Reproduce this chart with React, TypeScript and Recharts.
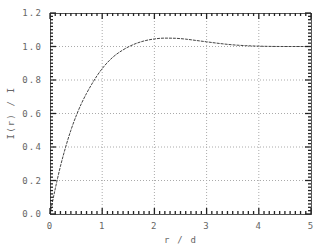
import { ComposedChart, Line, XAxis, YAxis, ReferenceLine, ReferenceArea } from "recharts"

// r / d values and the measured ratio I(r) / I
const rValues = [0, 0.1, 0.2, 0.3, 0.4, 0.5, 0.6, 0.7, 0.8, 0.9, 1.0, 1.2, 1.4, 1.6, 1.8, 2.0, 2.2, 2.4, 2.6, 2.8, 3.0, 3.25, 3.5, 3.75, 4.0, 4.5, 5.0]
const ratioValues = [0, 0.15, 0.285, 0.4, 0.5, 0.585, 0.658, 0.72, 0.775, 0.825, 0.868, 0.935, 0.98, 1.012, 1.033, 1.045, 1.05, 1.049, 1.044, 1.036, 1.028, 1.018, 1.01, 1.005, 1.002, 1.0, 1.0]

const xMajorTicks = [0, 1, 2, 3, 4, 5]
const yMajorTicks = [0, 0.2, 0.4, 0.6, 0.8, 1.0, 1.2]
const yTickLabels = ["0.0", "0.2", "0.4", "0.6", "0.8", "1.0", "1.2"]

// minor tick marks: every 0.1 on x, every 0.02 on y
const xMinorTicks = Array.from({ length: 51 }, (_, i) => i / 10)
const yMinorTicks = Array.from({ length: 61 }, (_, i) => i / 50)

const data = rValues.map((r, i) => ({ r, ratio: ratioValues[i] }))

const frameColor = "#555"
const tickColor = "#222"
const textColor = "#666"
const fontFamily = "'DejaVu Sans Mono', monospace"

const isMajor = (v: number, step: number) => Math.abs(v / step - Math.round(v / step)) < 1e-6

const makeXTick = (side: "bottom" | "top") => (props: any) => {
	const { x, y, payload } = props
	const v = payload.value as number
	const major = isMajor(v, 1)
	const len = major ? 6 : 3
	const dir = side === "bottom" ? -1 : 1
	return (
		<g>
			<line x1={x} x2={x} y1={y} y2={y + dir * len} stroke={tickColor} strokeWidth={1.3} />
			{side === "bottom" && major && (
				<text x={x} y={y + 15} textAnchor='middle' fill={textColor} fontSize={9} fontFamily={fontFamily} letterSpacing={1.2}>
					{String(v)}
				</text>
			)}
		</g>
	)
}

const makeYTick = (side: "left" | "right") => (props: any) => {
	const { x, y, payload } = props
	const v = payload.value as number
	const major = isMajor(v, 0.2)
	const len = major ? 6 : 3
	const dir = side === "left" ? 1 : -1
	const idx = yMajorTicks.findIndex((t) => Math.abs(t - v) < 1e-6)
	return (
		<g>
			<line x1={x} x2={x + dir * len} y1={y} y2={y} stroke={tickColor} strokeWidth={1.3} />
			{side === "left" && major && idx >= 0 && (
				<text x={x - 8} y={y + 3} textAnchor='end' fill={textColor} fontSize={9} fontFamily={fontFamily} letterSpacing={1.2}>
					{yTickLabels[idx]}
				</text>
			)}
		</g>
	)
}

export default function App() {
	return (
		<div style={{ position: "absolute", left: 0, top: 0, width: 330, height: 247, background: "#fff" }}>
			<ComposedChart width={330} height={247} data={data} margin={{ top: 12, right: 18, bottom: 13, left: 0 }}>
				<XAxis
					dataKey='r'
					type='number'
					domain={[0, 5]}
					ticks={xMinorTicks}
					interval={0}
					tickSize={0}
					tickMargin={0}
					tickLine={false}
					height={20}
					axisLine={false}
					tick={makeXTick("bottom")}
				/>
				<XAxis
					xAxisId='top'
					orientation='top'
					dataKey='r'
					type='number'
					domain={[0, 5]}
					ticks={xMinorTicks}
					interval={0}
					tickSize={0}
					tickMargin={0}
					tickLine={false}
					height={1}
					axisLine={false}
					tick={makeXTick("top")}
				/>
				<YAxis
					type='number'
					domain={[0, 1.2]}
					ticks={yMinorTicks}
					interval={0}
					tickSize={0}
					tickMargin={0}
					tickLine={false}
					width={50}
					axisLine={false}
					tick={makeYTick("left")}
				/>
				<YAxis
					yAxisId='right'
					orientation='right'
					type='number'
					domain={[0, 1.2]}
					ticks={yMinorTicks}
					interval={0}
					tickSize={0}
					tickMargin={0}
					tickLine={false}
					width={1}
					axisLine={false}
					tick={makeYTick("right")}
				/>
				{xMajorTicks.slice(1, -1).map((v) => (
					<ReferenceLine key={`x${v}`} x={v} stroke='#aaa' strokeDasharray='1 2' />
				))}
				{yMajorTicks.slice(1, -1).map((v) => (
					<ReferenceLine key={`y${v}`} y={v} stroke='#aaa' strokeDasharray='1 2' />
				))}
				<ReferenceArea
					x1={0}
					x2={5}
					y1={0}
					y2={1.2}
					fill='none'
					fillOpacity={0}
					stroke={frameColor}
					strokeWidth={1}
					shapeRendering='crispEdges'
					ifOverflow='visible'
				/>
				{/* invisible twin so the top and right axes get a domain */}
				<Line
					xAxisId='top'
					yAxisId='right'
					type='monotone'
					dataKey='ratio'
					stroke='none'
					dot={false}
					activeDot={false}
					isAnimationActive={false}
				/>
				<Line
					type='monotone'
					dataKey='ratio'
					stroke='#444'
					strokeWidth={1}
					strokeDasharray='3 1'
					dot={false}
					isAnimationActive={false}
				/>
			</ComposedChart>
			<div
				style={{
					position: "absolute",
					left: 130,
					width: 101,
					top: 234,
					textAlign: "center",
					fontFamily,
					fontSize: 9,
					letterSpacing: 1.2,
					color: textColor,
					lineHeight: "12px",
				}}
			>
				r / d
			</div>
			<div
				style={{
					position: "absolute",
					left: 11 - 50,
					top: 113 - 6,
					width: 100,
					textAlign: "center",
					transform: "rotate(-90deg)",
					fontFamily,
					fontSize: 9,
					letterSpacing: 1.2,
					color: textColor,
					lineHeight: "12px",
				}}
			>
				I(r) / I
			</div>
		</div>
	)
}
